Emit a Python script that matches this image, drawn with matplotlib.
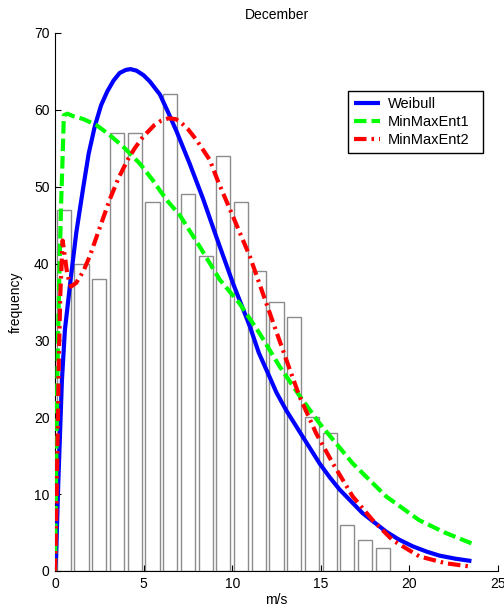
import numpy as np
import matplotlib
matplotlib.use("Agg")
import matplotlib.pyplot as plt

plt.rcParams['font.family'] = ['Liberation Sans', 'DejaVu Sans']

# histogram data (bin centres in m/s, counts)
bin_centers = [0.5, 1.5, 2.5, 3.5, 4.5, 5.5, 6.5, 7.5, 8.5, 9.5,
               10.5, 11.5, 12.5, 13.5, 14.5, 15.5, 16.5, 17.5, 18.5]
counts = [47, 40, 38, 57, 57, 48, 62, 49, 41, 54,
          48, 39, 35, 33, 20, 18, 6, 4, 3]

# fitted curves
weibull_x = [0, 0.06, 0.19, 0.39, 0.56, 0.88, 1.2, 1.6, 1.9, 2.25, 2.6, 2.95,
             3.3, 3.65, 4.0, 4.26, 4.6, 5.0, 5.35, 5.92, 6.38, 6.86, 7.6,
             8.36, 9.1, 10.05, 11.0, 11.5, 12.1, 12.5, 13.05, 14.0, 14.93,
             15.5, 16.06, 17.37, 18.7, 19.4, 20.2, 21.0, 21.7, 22.6, 23.5]
weibull_y = [0, 1.8, 11.8, 24.8, 31.4, 37.9, 44, 50, 54.3, 57.9, 60.6, 62.4,
             63.8, 64.8, 65.2, 65.3, 65.1, 64.5, 63.7, 62.0, 59.7, 57.2, 53.0,
             48.4, 43.5, 37.4, 31.8, 28.4, 25.3, 23.2, 20.9, 17.4, 14.0,
             12.2, 10.6, 7.5, 5.1, 4.1, 3.2, 2.5, 2.0, 1.6, 1.3]

mme1_x = [0, 0.05, 0.1, 0.17, 0.24, 0.34, 0.43, 0.5, 0.7, 1.0, 1.6, 2.35,
          3.1, 3.85, 4.79, 5.5, 6.29, 7.04, 8.17, 9.3, 10.42, 11.55, 12.68,
          13.8, 14.93, 16.8, 18.69, 20.56, 22.0, 23.5]
mme1_y = [0, 10, 20, 30, 38, 47.4, 53.9, 59.3, 59.5, 59.2, 58.8, 58.0,
          56.7, 55.2, 53.0, 50.9, 48.3, 46.3, 42.2, 37.9, 34.8, 30.9, 26.6,
          22.8, 19.2, 14.0, 9.7, 6.6, 5.0, 3.6]

mme2_x = [0, 0.08, 0.15, 0.22, 0.3, 0.43, 0.55, 0.7, 0.9, 1.2, 1.6, 1.97,
          2.5, 3.1, 3.6, 4.1, 4.5, 4.97, 5.6, 6.0, 6.4, 6.8, 7.04, 7.5, 7.98,
          8.73, 9.2, 10.05, 11.0, 11.93, 13.05, 13.8, 14.74, 15.68, 16.8,
          17.93, 19.06, 20.56, 22.07, 23.5]
mme2_y = [0, 8, 18, 28, 36, 43, 41, 38.5, 37, 37.5, 39, 41,
          44.5, 48.4, 51.2, 53.5, 55.0, 56.5, 58.0, 58.6, 58.9, 58.8, 58.5,
          57.5, 56.1, 53.5, 50.7, 46.1, 40.9, 34.8, 27.5, 22.7, 17.9, 14.0,
          9.7, 6.6, 4.0, 1.9, 1.0, 0.56]

xticks = [0, 5, 10, 15, 20, 25]
yticks = [0, 10, 20, 30, 40, 50, 60, 70]

fig = plt.figure(figsize=(5.04, 6.11), dpi=100)
ax = fig.add_axes([55/504, 40/611, 443/504, 538/611])

ax.bar(bin_centers, counts, width=0.8, color='white',
       edgecolor='#8c8c8c', linewidth=1.0, zorder=1)

lw = 3
ax.plot(weibull_x, weibull_y, color='#0000ff', lw=lw, label='Weibull',
        solid_capstyle='butt', zorder=3)
l1, = ax.plot(mme1_x, mme1_y, color='#00ff00', lw=lw, label='MinMaxEnt1',
              zorder=3)
l1.set_dashes((3, 1.2))
l2, = ax.plot(mme2_x, mme2_y, color='#ff0000', lw=lw, label='MinMaxEnt2',
              zorder=4)
l2.set_dashes((3, 1.2, 0.6, 1.2))

ax.set_xlim(0, 25)
ax.set_ylim(0, 70)
ax.set_xticks(xticks)
ax.set_yticks(yticks)
ax.tick_params(direction='in', length=4, width=0.8, labelsize=10,
               colors='black', pad=4)
for s in ['top', 'right']:
    ax.spines[s].set_visible(False)
for s in ['left', 'bottom']:
    ax.spines[s].set_linewidth(0.8)

ax.set_title('December', fontsize=10, pad=10)
ax.set_xlabel('m/s', fontsize=10, labelpad=2)
ax.set_ylabel('frequency', fontsize=10, labelpad=8)

leg = ax.legend(loc='upper left', bbox_to_anchor=(0.661, 0.781, 0.306, 0.112),
                mode='expand', fontsize=10.5, frameon=True, fancybox=False,
                framealpha=1, edgecolor='black', handlelength=1.8,
                handletextpad=0.5, labelspacing=0.28, borderpad=0.42,
                borderaxespad=0)
leg.get_frame().set_linewidth(1.0)

fig.savefig('out.png', dpi=100)
